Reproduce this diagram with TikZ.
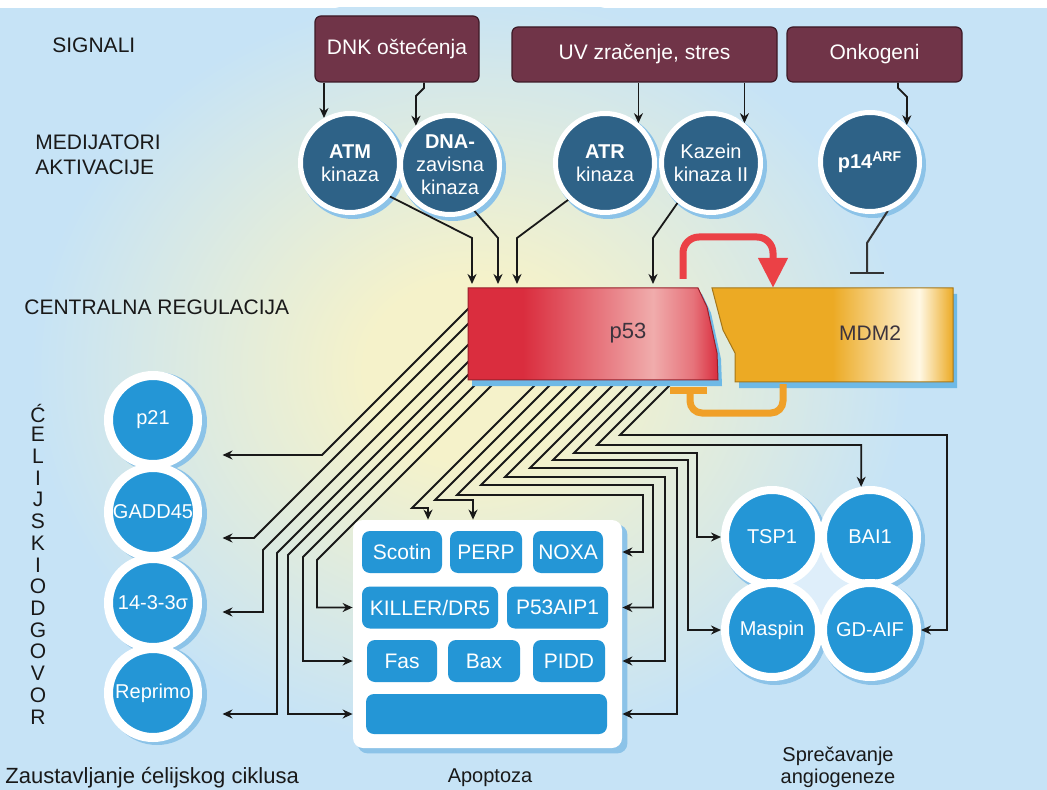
\documentclass[tikz,border=0pt]{standalone}
\usepackage{fontspec}
\setmainfont{Liberation Sans}
\usetikzlibrary{arrows.meta}
\definecolor{bgblue}{RGB}{198,227,246}
\definecolor{glowc}{RGB}{245,242,202}
\definecolor{sigc}{RGB}{112,52,72}
\definecolor{sigdark}{RGB}{60,25,38}
\definecolor{medblue}{RGB}{46,98,135}
\definecolor{haloc}{RGB}{140,195,232}
\definecolor{centc}{RGB}{222,238,250}
\definecolor{cblue}{RGB}{36,150,214}
\definecolor{p53red}{RGB}{218,45,62}
\definecolor{p53pink}{RGB}{240,172,172}
\definecolor{mdmorange}{RGB}{236,170,36}
\definecolor{mdmlight}{RGB}{255,248,228}
\definecolor{redarr}{RGB}{235,65,70}
\definecolor{orangec}{RGB}{240,160,40}
\definecolor{shadowc}{RGB}{110,185,230}
\definecolor{textc}{RGB}{60,52,62}
\definecolor{wirec}{RGB}{25,25,25}
\pgfdeclarelayer{back}
\pgfdeclarelayer{halo}
\pgfdeclarelayer{wire}
\pgfsetlayers{back,halo,wire,main}
\pgfdeclareradialshading{glow}{\pgfpoint{0bp}{0bp}}{color(0bp)=(glowc); color(6bp)=(glowc); color(25bp)=(bgblue); color(50bp)=(bgblue)}
\pgfdeclarehorizontalshading{p53sh}{100bp}{color(0bp)=(p53red); color(36bp)=(p53red); color(52bp)=(p53pink!60!p53red); color(62bp)=(p53pink); color(70bp)=(p53pink!55!p53red); color(75bp)=(p53red); color(100bp)=(p53red)}
\pgfdeclarehorizontalshading{mdmsh}{100bp}{color(0bp)=(mdmorange); color(50bp)=(mdmorange); color(68bp)=(mdmlight); color(75bp)=(mdmorange); color(100bp)=(mdmorange)}
\tikzset{
  lbl/.style={font=\fontsize{10.5}{12}\selectfont, text=black!90, inner sep=0},
  sig/.style={draw=sigdark, line width=0.6pt, fill=sigc, rounded corners=3pt, text=white, font=\fontsize{10.5}{12}\selectfont, inner sep=0},
  med/.style={circle, fill=medblue, draw=white, line width=2.5pt, minimum size=49.5pt, inner sep=0, text=white, align=center, font=\fontsize{10}{11.5}\selectfont},
  cyc/.style={circle, fill=cblue, draw=white, line width=4.5pt, minimum size=44.5pt, inner sep=0, outer sep=12.5pt, text=white, font=\fontsize{10}{12}\selectfont},
  ang/.style={circle, fill=cblue, draw=white, line width=4pt, minimum size=47pt, inner sep=0, text=white, font=\fontsize{10}{12}\selectfont},
  apb/.style={fill=cblue, rounded corners=4pt, minimum height=21pt, inner sep=0, text=white, font=\fontsize{10.5}{12}\selectfont},
  arr/.style={draw=wirec, line width=0.9pt, -{Stealth[length=5pt,width=4.5pt]}},
}
\begin{document}
\begin{tikzpicture}[x=0.5pt,y=-0.5pt]
\useasboundingbox (0,0) rectangle (1047,790);
\begin{pgfonlayer}{back}
  \fill[white] (0,0) rectangle (1047,790);
  \fill[bgblue] (0,8) rectangle (1047,790);
  \begin{scope}
    \clip (0,8) rectangle (1047,790);
    \shade[shading=glow] (470,370) ellipse (440 and 380);
  \end{scope}
\end{pgfonlayer}

\node[lbl, anchor=west] (signali) at (52,45) {SIGNALI};
\node[lbl, anchor=west, align=left, font=\fontsize{10.5}{12.5}\selectfont] (medij) at (35,155) {MEDIJATORI\\AKTIVACIJE};
\node[lbl, anchor=west] (central) at (24,307) {CENTRALNA REGULACIJA};
\foreach \ch [count=\i] in {Ć,E,L,I,J,S,K,I,O,D,G,O,V,O,R}
  \node[lbl] (v\i) at (38,{413+21.7*(\i-1)}) {\ch};
\node[lbl, anchor=west, font=\fontsize{11}{12}\selectfont] (zaust) at (5,778) {Zaustavljanje ćelijskog ciklusa};
\node[lbl, font=\fontsize{10}{12}\selectfont] (apoptoza) at (490,778) {Apoptoza};
\node[lbl, align=center, font=\fontsize{10}{11.2}\selectfont] (spreca) at (838,767) {Sprečavanje\\angiogeneze};

\node[sig, minimum width=82pt, minimum height=33pt] (dnk) at (397,49) {DNK oštećenja};
\node[sig, minimum width=132.5pt, minimum height=27.5pt] (uv) at (644.5,54.5) {UV zračenje, stres};
\node[sig, minimum width=87.5pt, minimum height=27.5pt] (onko) at (874.5,54.5) {Onkogeni};

\node[med] (atm) at (350,163) {\textbf{ATM}\\kinaza};
\node[med] (dna) at (450,165) {\textbf{DNA-}\\zavisna\\kinaza};
\node[med] (atr) at (605,163) {\textbf{ATR}\\kinaza};
\node[med] (kaz) at (711,163) {Kazein\\kinaza II};
\node[med] (p14) at (870,162) {\textbf{p14\textsuperscript{ARF}}};

\begin{scope}[shift={(4,6)}]
  \fill[shadowc] (468,288) -- (698,288) -- (707,307) -- (717,353) -- (718,380) -- (468,380) -- cycle;
  \fill[shadowc] (712,288) -- (953,288) -- (953,382) -- (735,382) -- (735,353) -- (723,330) -- cycle;
\end{scope}
\shadedraw[shading=p53sh, draw=p53red!70!black, line width=0.5pt] (468,288) -- (698,288) -- (707,307) -- (717,353) -- (718,380) -- (468,380) -- cycle;
\shadedraw[shading=mdmsh, draw=mdmorange!70!black, line width=0.5pt] (712,288) -- (953,288) -- (953,382) -- (735,382) -- (735,353) -- (723,330) -- cycle;
\node[text=textc, font=\fontsize{11}{12}\selectfont] (p53) at (628,333) {p53};
\node[text=textc, font=\fontsize{10.5}{12}\selectfont] (mdm2) at (870,333) {MDM2};
\draw[redarr, line width=3.5pt, rounded corners=8pt, -{Triangle[length=15pt,width=14pt]}] (683,279) -- (683,237) -- (773,237) -- (773,288);
\draw[orangec, line width=3.5pt, rounded corners=6pt] (690,390) -- (690,413) -- (783,413) -- (783,384);
\draw[orangec, line width=3.5pt] (670,390) -- (707,390);

\node[cyc] (p21) at (153,420) {p21};
\node[cyc] (gadd) at (153,512) {GADD45};
\node[cyc] (sigma) at (153,603) {14-3-3σ};
\node[cyc] (reprimo) at (153,693) {Reprimo};

\node[fill=white, rounded corners=5pt, minimum width=134.5pt, minimum height=114pt] (apo) at (487.5,634) {};
\node[apb, minimum width=40pt] (scotin) at (402,552) {Scotin};
\node[apb, minimum width=36pt] (perp) at (486,552) {PERP};
\node[apb, minimum width=35pt] (noxa) at (568,552) {NOXA};
\node[apb, minimum width=68pt] (killer) at (430,607.5) {KILLER/DR5};
\node[apb, minimum width=50.5pt] (aip) at (557.5,607.5) {P53AIP1};
\node[apb, minimum width=35pt] (fas) at (402,661) {Fas};
\node[apb, minimum width=36pt] (bax) at (484,661) {Bax};
\node[apb, minimum width=36pt] (pidd) at (569,661) {PIDD};
\node[apb, minimum width=120.5pt, minimum height=20pt] (blank) at (486.5,714) {};

\node[ang] (tsp) at (772,537) {TSP1};
\node[ang] (bai) at (870,537) {BAI1};
\node[ang] (maspin) at (772,630) {Maspin};
\node[ang] (gdaif) at (870,630) {GD-AIF};

\begin{pgfonlayer}{halo}
  \foreach \n in {atm,dna,atr,kaz,p14}
    \fill[haloc] ([shift={(1.5pt,-1.5pt)}]\n.center) circle (26.5pt);
  \foreach \n in {p21,gadd,sigma,reprimo}
    \fill[haloc] ([shift={(2pt,-1pt)}]\n.center) circle (25pt);
  \foreach \n in {tsp,bai,maspin,gdaif}
    \fill[haloc] ([shift={(1.5pt,-1.5pt)}]\n.center) circle (26pt);
  \fill[centc] (tsp.center) rectangle (gdaif.center);
  \fill[haloc, rounded corners=5pt] ([shift={(2.5pt,-2.5pt)}]apo.south west) rectangle ([shift={(2.5pt,-2.5pt)}]apo.north east);
\end{pgfonlayer}

\begin{pgfonlayer}{wire}
  \draw[arr] (dnk.south -| atm.120) -- (atm.120);
  \draw[arr] (dnk.south -| 424,0) -- (424,88) -- (416,96) -- (dna.131);
  \draw[arr] (uv.south -| atr.50) -- (atr.50);
  \draw[arr] (uv.south -| kaz.50) -- (kaz.50);
  \draw[arr] (onko.south -| 898,0) -- (898,88) -- (907,97) -- (p14.45);

  \draw[arr] (atm.-40) -- (472,238) -- (472,284);
  \draw[arr] (dna.-62) -- (498,238) -- (498,284);
  \draw[arr] (atr.-135) -- (517,238) -- (517,284);
  \draw[arr] (kaz.-130) -- (653,238) -- (653,284);
  \draw[draw=black!80, line width=1pt, -{Bar[width=17pt]}] (p14.-70) -- (867,243) -- (867,274);

  \draw[arr] (477,300) -- (322,455) -- (322,455 -| p21.east);
  \draw[arr] (477,315) -- (254,538) -- (254,538 -| gadd.east);
  \draw[arr] (478,335) -- (263,550) -- (263,612) -- (263,612 -| sigma.east);
  \draw[arr] (480,350) -- (277,553) -- (277,714) -- (277,714 -| reprimo.east);
  \draw[arr] (483,360) -- (288,555) |- (blank -| apo.west);
  \draw[arr] (500,360) -- (303,557) |- (fas -| apo.west);
  \draw[arr] (517,360) -- (317,560) |- (killer -| apo.west);

  \draw[arr] (560,360) -- (412,508) -- (428,508) -- (428,508 |- apo.north);
  \draw[arr] (575,360) -- (435,500) -- (473,500) -- (473,500 |- apo.north);
  \draw[arr] (592,360) -- (457,495) -- (643,495) |- (noxa -| apo.east);
  \draw[arr] (606,360) -- (481,485) -- (653,485) |- (aip -| apo.east);
  \draw[arr] (622,360) -- (505,477) -- (665,477) |- (pidd -| apo.east);
  \draw[arr] (638,360) -- (530,468) -- (677,468) |- (blank -| apo.east);

  \draw[arr] (653,360) -- (553,460) -- (688,460) |- (maspin.west);
  \draw[arr] (667,360) -- (574,453) -- (697,453) |- (tsp.west);
  \draw[arr] (682,360) -- (597,445) -| (bai.100);
  \draw[arr] (695,360) -- (620,435) -- (947,435) |- (gdaif.east);
\end{pgfonlayer}
\end{tikzpicture}
\end{document}
